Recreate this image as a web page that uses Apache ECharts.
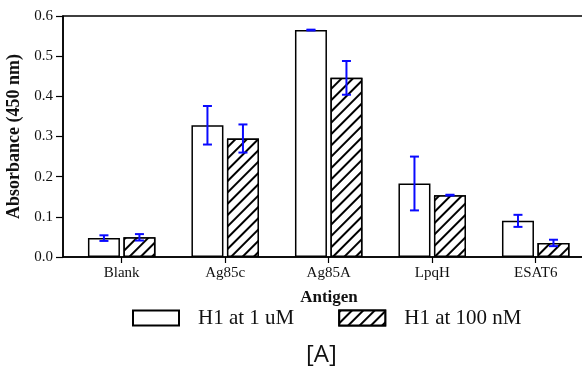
<!DOCTYPE html>
<html><head><meta charset="utf-8">
<script src="https://cdn.jsdelivr.net/npm/echarts@6/dist/echarts.min.js"></script>
<style>html,body{margin:0;padding:0;background:#fff}#c{width:582px;height:372px}</style>
</head><body><div id="c"></div>
<script>
const categories = ['Blank', 'Ag85c', 'Ag85A', 'LpqH', 'ESAT6'];
const seriesNames = ['H1 at 1 uM', 'H1 at 100 nM'];
const values1uM = [0.047, 0.328, 0.565, 0.183, 0.090];
const err1uM = [0.007, 0.048, 0.001, 0.067, 0.015];
const values100nM = [0.049, 0.295, 0.446, 0.154, 0.035];
const err100nM = [0.008, 0.035, 0.042, 0.001, 0.008];
const yTicks = [0, 0.1, 0.2, 0.3, 0.4, 0.5, 0.6];

const BAR_W = 32, BAR_GAP_PX = 3.5;
const OFF = (BAR_W + BAR_GAP_PX) / 2;
const serif = '"Liberation Serif", "Times New Roman", serif';

const chart = echarts.init(document.getElementById('c'), null, {renderer: 'canvas'});

function errSeries(vals, errs, dir, name) {
  return {
    type: 'custom', name: name + ' err', silent: true, z: 10,
    data: vals.map((v, i) => [i, v, errs[i]]),
    renderItem: function (params, api) {
      const x = api.value(0), v = api.value(1), e = api.value(2);
      const top = api.coord([x, v + e]);
      const bot = api.coord([x, v - e]);
      const cx = top[0] + dir * OFF;
      const hw = 4.5;
      const st = {stroke: '#0a0aff', lineWidth: 2};
      return {type: 'group', children: [
        {type: 'line', shape: {x1: cx, y1: top[1], x2: cx, y2: bot[1]}, style: st},
        {type: 'line', shape: {x1: cx - hw, y1: top[1], x2: cx + hw, y2: top[1]}, style: st},
        {type: 'line', shape: {x1: cx - hw, y1: bot[1], x2: cx + hw, y2: bot[1]}, style: st}
      ]};
    }
  };
}

const hatch = {symbol: 'rect', color: '#000', backgroundColor: '#fff', dashArrayX: [1, 0], dashArrayY: [1.4, 5.4], rotation: -Math.PI / 4, symbolSize: 1};

chart.setOption({
  animation: false,
  backgroundColor: '#fff',
  graphic: [{
    type: 'text', left: 306, top: 343,
    style: {text: '[A]', font: 'normal 24px "Open Sans", "Liberation Sans", sans-serif', fill: '#111'}
  }],
  grid: {left: 63, top: 16, width: 540, bottom: 115, containLabel: false, outerBoundsMode: 'none',
    show: true, borderColor: '#000', borderWidth: 1.5, backgroundColor: 'transparent'},
  legend: {
    left: 127, top: 302, itemWidth: 46, itemHeight: 15, itemGap: 44,
    data: seriesNames.map(n => ({name: n, icon: 'rect'})),
    textStyle: {fontFamily: serif, fontSize: 21, lineHeight: 22, color: '#111', padding: [0, 0, 0, 14]}
  },
  xAxis: {
    type: 'value', min: -0.567, max: 4.65,
    name: 'Antigen', nameLocation: 'middle', nameGap: 32,
    nameTextStyle: {fontFamily: serif, fontSize: 17, fontWeight: 'bold', color: '#111', padding: [0, 8, 0, 0]},
    axisLine: {show: true, onZero: false, lineStyle: {color: '#000', width: 1.5}},
    axisTick: {show: true, length: 6, lineStyle: {color: '#000', width: 1.2}, customValues: [0, 1, 2, 3, 4]},
    axisLabel: {margin: 9, fontFamily: serif, fontSize: 15, color: '#111', customValues: [0, 1, 2, 3, 4],
      formatter: v => categories[Math.round(v)] || ''},
    splitLine: {show: false}
  },
  yAxis: {
    type: 'value', min: 0, max: 0.6, interval: 0.1,
    name: 'Absorbance (450 nm)', nameLocation: 'middle', nameGap: 35,
    nameTextStyle: {fontFamily: serif, fontSize: 18, fontWeight: 'bold', color: '#111'},
    axisLine: {show: true, onZero: false, lineStyle: {color: '#000', width: 1.5}},
    axisTick: {show: true, length: 7, lineStyle: {color: '#000', width: 1.2}},
    axisLabel: {margin: 10, fontFamily: serif, fontSize: 15, color: '#111', formatter: v => v.toFixed(1)},
    splitLine: {show: false}
  },
  series: [
    {
      name: seriesNames[0], type: 'bar', barWidth: BAR_W, barGap: (BAR_GAP_PX / BAR_W * 100) + '%',
      data: values1uM.map((v, i) => [i, v]),
      itemStyle: {color: '#fff', borderColor: '#000', borderWidth: 1.5}
    },
    {
      name: seriesNames[1], type: 'bar', barWidth: BAR_W,
      data: values100nM.map((v, i) => [i, v]),
      itemStyle: {color: '#fff', borderColor: '#000', borderWidth: 1.5, decal: hatch}
    },
    errSeries(values1uM, err1uM, -1, seriesNames[0]),
    errSeries(values100nM, err100nM, 1, seriesNames[1])
  ]
});
</script></body></html>
